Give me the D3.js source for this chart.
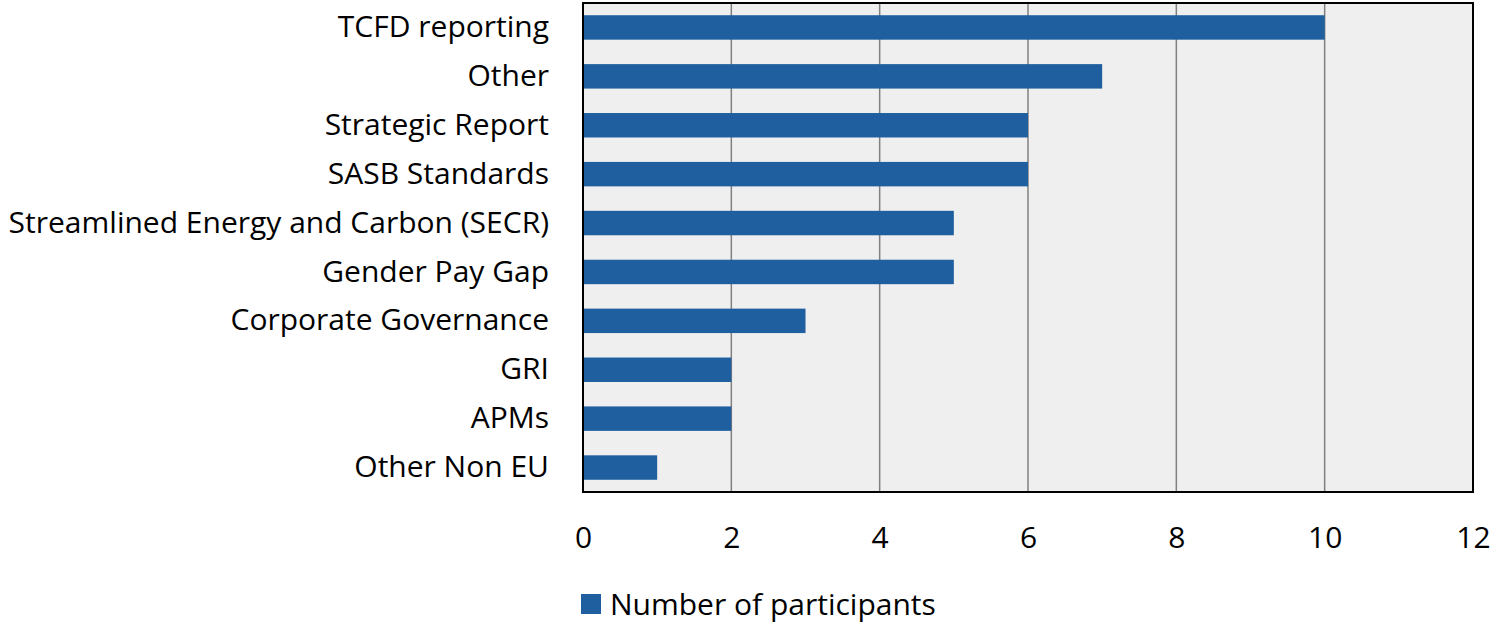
<!DOCTYPE html>
<html>
<head>
<meta charset="utf-8">
<script src="https://cdn.jsdelivr.net/npm/d3@7"></script>
<style>
  body { margin: 0; background: #fff; }
  text { font-family: "Open Sans", "Noto Sans", sans-serif; fill: #000; }
</style>
</head>
<body>
<svg class="chart" width="1493" height="623"></svg>
<script>
const categories = [
    "TCFD reporting",
    "Other",
    "Strategic Report",
    "SASB Standards",
    "Streamlined Energy and Carbon (SECR)",
    "Gender Pay Gap",
    "Corporate Governance",
    "GRI",
    "APMs",
    "Other Non EU"
];
const participants = [10, 7, 6, 6, 5, 5, 3, 2, 2, 1];
const xTicks = [0, 2, 4, 6, 8, 10, 12];
const seriesName = "Number of participants";

const svg = d3.select(".chart");
const plot = { left: 583, right: 1473, top: 3, bottom: 492 };
const barColor = "#1f5fa0";
const fontSize = 30;

const x = d3.scaleLinear().domain([0, 12]).range([plot.left, plot.right]);
const y = d3.scaleBand().domain(categories).range([plot.top, plot.bottom]).paddingInner(0.5).paddingOuter(0.25);

// plot background
svg.append("rect")
    .attr("x", plot.left).attr("y", plot.top)
    .attr("width", plot.right - plot.left).attr("height", plot.bottom - plot.top)
    .attr("fill", "#efefef");

// gridlines
svg.append("g")
    .selectAll("line")
    .data(xTicks.filter(d => d > 0 && d < 12))
    .join("line")
    .attr("x1", d => x(d)).attr("x2", d => x(d))
    .attr("y1", plot.top).attr("y2", plot.bottom)
    .attr("stroke", "#808080")
    .attr("stroke-width", 1.5);

// bars
svg.append("g")
    .selectAll("rect")
    .data(categories)
    .join("rect")
    .attr("x", x(0))
    .attr("y", d => y(d))
    .attr("width", (d, i) => x(participants[i]) - x(0))
    .attr("height", y.bandwidth())
    .attr("fill", barColor);

// frame
svg.append("rect")
    .attr("x", plot.left).attr("y", plot.top)
    .attr("width", plot.right - plot.left).attr("height", plot.bottom - plot.top)
    .attr("fill", "none")
    .attr("stroke", "#000")
    .attr("stroke-width", 2);

// category labels
const yAxis = d3.axisLeft(y).tickSize(0).tickPadding(34);
svg.append("g")
    .attr("transform", `translate(${plot.left},0)`)
    .call(yAxis)
    .call(g => g.select(".domain").remove())
    .selectAll("text")
    .style("font-family", "'Open Sans', 'Noto Sans', sans-serif")
    .attr("font-size", fontSize)
    .attr("fill", "#000");

// x tick labels
const xAxis = d3.axisBottom(x).tickValues(xTicks).tickSize(0).tickPadding(35);
svg.append("g")
    .attr("transform", `translate(0,${plot.bottom})`)
    .call(xAxis)
    .call(g => g.select(".domain").remove())
    .selectAll("text")
    .style("font-family", "'Open Sans', 'Noto Sans', sans-serif")
    .attr("font-size", fontSize)
    .attr("fill", "#000");

// legend
const legend = svg.append("g").attr("transform", "translate(581,594)");
legend.append("rect")
    .attr("width", 20).attr("height", 20)
    .attr("fill", barColor);
legend.append("text")
    .attr("x", 29).attr("y", 21)
    .attr("font-size", fontSize)
    .text(seriesName);
</script>
</body>
</html>
